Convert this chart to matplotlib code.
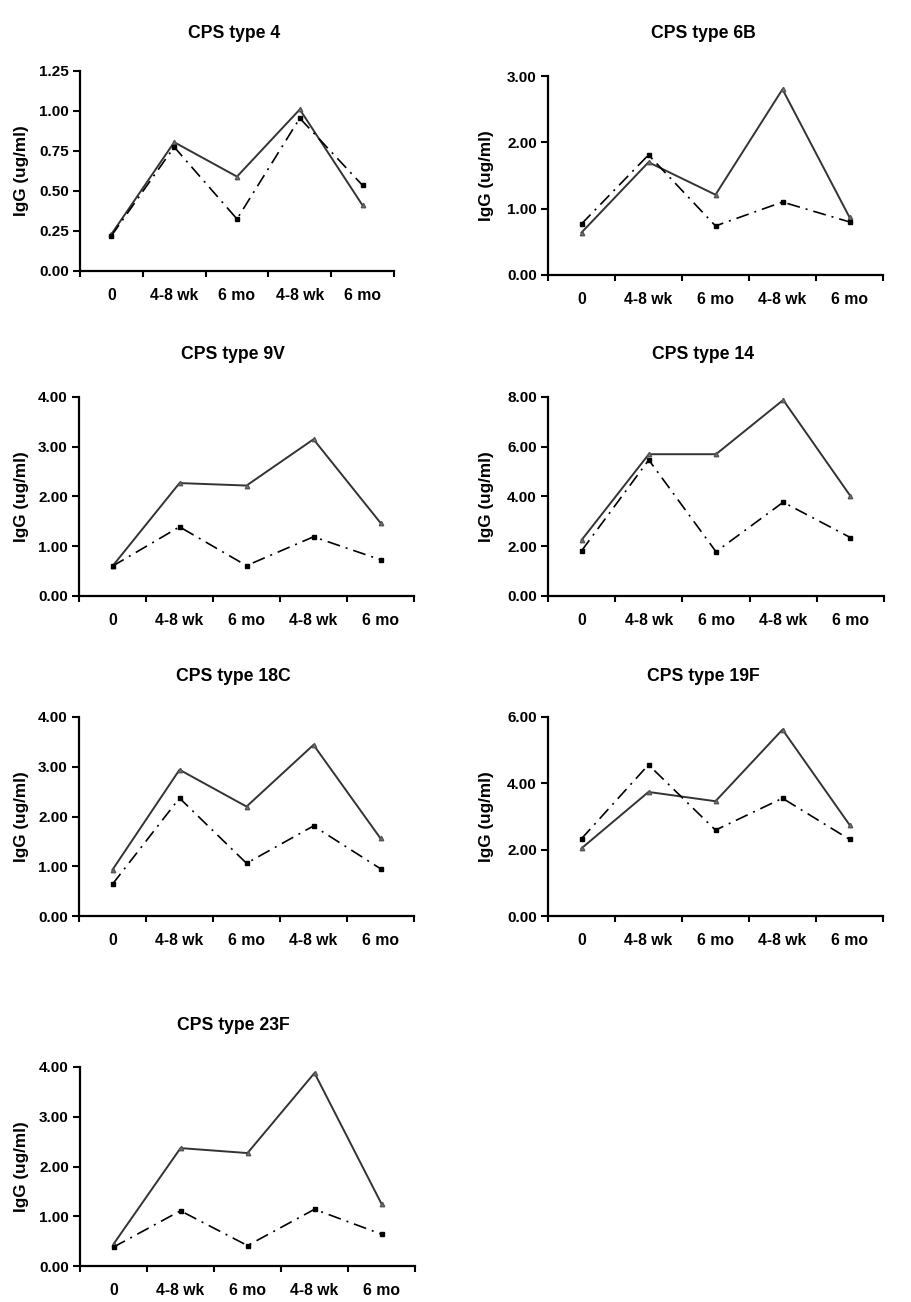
import matplotlib
matplotlib.use("Agg")
import matplotlib.pyplot as plt
from matplotlib.ticker import FixedLocator, FixedFormatter

plt.rcParams['font.family'] = ['Liberation Sans', 'DejaVu Sans']
plt.rcParams['font.weight'] = 'bold'

timepoints = ["0", "4-8 wk", "6 mo", "4-8 wk", "6 mo"]

titles = ["CPS type 4", "CPS type 6B", "CPS type 9V", "CPS type 14",
          "CPS type 18C", "CPS type 19F", "CPS type 23F"]

solid_4 = [0.23, 0.805, 0.59, 1.01, 0.41]
dash_4 = [0.22, 0.775, 0.325, 0.955, 0.535]
solid_6B = [0.64, 1.70, 1.21, 2.80, 0.87]
dash_6B = [0.77, 1.81, 0.74, 1.10, 0.80]
solid_9V = [0.60, 2.27, 2.22, 3.15, 1.47]
dash_9V = [0.60, 1.39, 0.61, 1.19, 0.73]
solid_14 = [2.25, 5.70, 5.70, 7.88, 4.02]
dash_14 = [1.82, 5.47, 1.78, 3.77, 2.35]
solid_18C = [0.93, 2.94, 2.20, 3.44, 1.56]
dash_18C = [0.64, 2.37, 1.06, 1.81, 0.95]
solid_19F = [2.04, 3.74, 3.46, 5.62, 2.75]
dash_19F = [2.33, 4.56, 2.59, 3.55, 2.31]
solid_23F = [0.44, 2.37, 2.27, 3.88, 1.25]
dash_23F = [0.38, 1.11, 0.41, 1.14, 0.64]

y_ticks_4 = [0.00, 0.25, 0.50, 0.75, 1.00, 1.25]
y_ticks_6B = [0.00, 1.00, 2.00, 3.00]
y_ticks_9V = [0.00, 1.00, 2.00, 3.00, 4.00]
y_ticks_14 = [0.00, 2.00, 4.00, 6.00, 8.00]
y_ticks_18C = [0.00, 1.00, 2.00, 3.00, 4.00]
y_ticks_19F = [0.00, 2.00, 4.00, 6.00]
y_ticks_23F = [0.00, 1.00, 2.00, 3.00, 4.00]

panels = [
    (titles[0], solid_4, dash_4, y_ticks_4),
    (titles[1], solid_6B, dash_6B, y_ticks_6B),
    (titles[2], solid_9V, dash_9V, y_ticks_9V),
    (titles[3], solid_14, dash_14, y_ticks_14),
    (titles[4], solid_18C, dash_18C, y_ticks_18C),
    (titles[5], solid_19F, dash_19F, y_ticks_19F),
    (titles[6], solid_23F, dash_23F, y_ticks_23F),
]

W, H = 911, 1302
fig = plt.figure(figsize=(W / 100, H / 100), dpi=100)

# pixel boxes: (x0, x1, ytop, ybottom), title (x, y), ylabel x
boxes = [
    (80, 394, 71, 271, 234, 33, 22),
    (548, 883, 76, 275, 703, 33, 486),
    (79, 414, 397, 596, 233, 355, 22),
    (548, 884, 397, 596, 703, 355, 486),
    (79, 414, 717, 916, 233, 676, 22),
    (548, 883, 717, 916, 703, 676, 486),
    (80, 415, 1067, 1266, 233, 1025, 22),
]

for (title, s, d, yt), (x0, x1, yt0, yb0, tx, ty, lx) in zip(panels, boxes):
    ax = fig.add_axes([x0 / W, 1 - yb0 / H, (x1 - x0) / W, (yb0 - yt0) / H])
    xs = [i + 0.5 for i in range(len(timepoints))]
    ax.plot(xs, s, color='#333333', lw=1.4, marker='^', ms=3.2,
            mfc='#777777', mec='#555555', zorder=3)
    ax.plot(xs, d, color='black', lw=1.2, marker='s', ms=3.3,
            linestyle=(0, (7.8, 3.6, 1.2, 3.6)), zorder=4)
    ax.set_xlim(0, len(timepoints))
    ax.set_ylim(yt[0], yt[-1])
    ax.xaxis.set_major_locator(FixedLocator(list(range(len(timepoints) + 1))))
    ax.xaxis.set_major_formatter(FixedFormatter([]))
    ax.xaxis.set_minor_locator(FixedLocator(xs))
    ax.xaxis.set_minor_formatter(FixedFormatter(timepoints))
    ax.tick_params(axis='x', which='major', direction='out', length=4, width=1.5)
    ax.tick_params(axis='x', which='minor', length=0, pad=12, labelsize=11.3)
    ax.set_yticks(yt)
    ax.set_yticklabels([f"{v:.2f}" for v in yt])
    ax.tick_params(axis='y', direction='out', length=5, width=1.5, labelsize=11, pad=3)
    for lab in ax.get_xticklabels(minor=True) + ax.get_yticklabels():
        lab.set_fontweight('bold')
    for sp in ['top', 'right']:
        ax.spines[sp].set_visible(False)
    for sp in ['left', 'bottom']:
        ax.spines[sp].set_linewidth(1.6)
    ax.patch.set_alpha(0)
    fig.text(tx / W, 1 - ty / H, title, ha='center', va='center',
             fontsize=12.7, fontweight='bold')
    fig.text(lx / W, 1 - ((yt0 + yb0) / 2) / H, "IgG (ug/ml)", rotation=90,
             ha='center', va='center', fontsize=12.3, fontweight='bold')

fig.savefig("out.png", dpi=100)
